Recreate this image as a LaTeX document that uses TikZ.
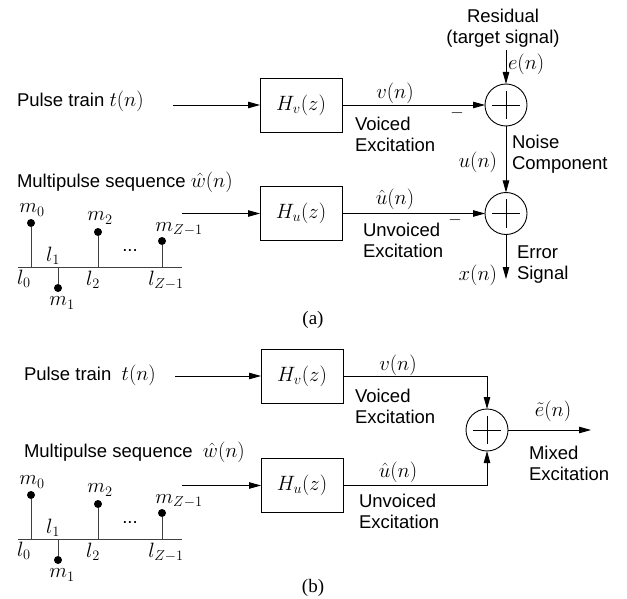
\documentclass[tikz,border=0pt]{standalone}
\usepackage[no-math]{fontspec}
\setmainfont{Liberation Sans}
\newfontfamily\capfont{Liberation Serif}
\usetikzlibrary{arrows.meta}
\newcommand{\mth}[1]{{\fontsize{20.74}{24}\selectfont$#1$}}
\tikzset{
  every node/.style={inner sep=0pt, outer sep=0pt},
  lbl/.style={font=\fontsize{18.5}{21}\selectfont},
  blk/.style={draw, line width=0.9pt, minimum width=82pt, minimum height=54pt, font=\fontsize{20.74}{24}\selectfont},
  sumnode/.style={circle, draw, line width=0.9pt, minimum size=42pt,
    path picture={\draw[line width=0.8pt] ([xshift=-14pt]path picture bounding box.center) -- ([xshift=14pt]path picture bounding box.center)
                   ([yshift=-14pt]path picture bounding box.center) -- ([yshift=14pt]path picture bounding box.center);}},
  sig/.style={line width=0.9pt, -{Triangle[length=12pt,width=6.5pt]}},
  stem/.style={line width=0.9pt, draw=black!75},
  dot/.style={circle, fill=black, minimum size=8pt},
  mathlbl/.style={font=\fontsize{20.74}{24}\selectfont},
}
\newcommand{\stemplot}{%
  \coordinate (b0) at (18,0);
  \coordinate (b1) at (182,0);
  \draw[stem] (b0) -- (b1);
  \coordinate (s0) at (31,0);
  \coordinate (s1) at (58,0);
  \coordinate (s2) at (98,0);
  \coordinate (s3) at (162,0);
  \node[dot] (d0) at (31,-44) {};
  \node[dot] (d1) at (58,21) {};
  \node[dot] (d2) at (98,-35) {};
  \node[dot] (d3) at (162,-26) {};
  \draw[stem] (s0) -- (d0);
  \draw[stem] (s1) -- (d1);
  \draw[stem] (s2) -- (d2);
  \draw[stem] (s3) -- (d3);
  \node[mathlbl] (m0) at (32,-57) {$m_0$};
  \node[mathlbl] (m1) at (62,36) {$m_1$};
  \node[mathlbl] (m2) at (100,-49) {$m_2$};
  \node[mathlbl] (mz) at (179,-38) {$m_{Z-1}$};
  \node[mathlbl] (l0) at (24,12) {$l_0$};
  \node[mathlbl] (l1) at (53,-11) {$l_1$};
  \node[mathlbl] (l2) at (93,13) {$l_2$};
  \node[mathlbl] (lz) at (166,13) {$l_{Z-1}$};
  \node[lbl] (dots) at (130,-16) {...};
}
\begin{document}
\begin{tikzpicture}[x=1pt,y=-1pt]
\useasboundingbox (0,0) rectangle (627,599);

% ---------------- (a) ----------------
\node[lbl, anchor=west] (pta) at (17,101) {Pulse train \mth{t(n)}};
\coordinate (pina) at (173,105);
\node[blk] (hva) at (301,105) {$H_v(z)$};
\draw[sig] (pina) -- (hva.west);

\node[lbl, anchor=west] (mpa) at (17,182) {Multipulse sequence \mth{\hat{w}(n)}};
\coordinate (mina) at (182,213.5);
\node[blk] (hua) at (301,213.5) {$H_u(z)$};
\draw[sig] (mina) -- (hua.west);

\begin{scope}[shift={(0,267)}, name prefix=a-]
\stemplot
\end{scope}

\node[sumnode] (sa1) at (506,105) {};
\node[sumnode] (sa2) at (506,213.5) {};
\node[lbl, align=center] (res) at (503,28) {Residual\\(target signal)};
\coordinate (ein) at (506,50);
\draw[sig] (ein) -- (sa1.north);
\node[mathlbl, anchor=west] (en) at (508,64) {$e(n)$};

\draw[sig] (hva.east) -- (sa1.west);
\node[mathlbl] (vna) at (395,93) {$v(n)$};
\node[lbl] (mina1) at (457,113) {$-$};
\node[lbl, anchor=west, align=left] (vea) at (355,134) {Voiced\\Excitation};

\draw[sig] (sa1.south) -- (sa2.north);
\node[mathlbl, anchor=east] (un) at (497,162) {$u(n)$};
\node[lbl, anchor=west, align=left] (nc) at (512,154) {Noise\\Component};

\draw[sig] (hua.east) -- (sa2.west);
\node[mathlbl] (uhna) at (395,199) {$\hat{u}(n)$};
\node[lbl] (mina2) at (455,220) {$-$};
\node[lbl, anchor=west, align=left] (uea) at (363,240) {Unvoiced\\Excitation};

\coordinate (xout) at (506,279);
\draw[sig] (sa2.south) -- (xout);
\node[mathlbl, anchor=east] (xn) at (497,275) {$x(n)$};
\node[lbl, anchor=west, align=left] (es) at (517,265) {Error\\Signal};

\node[font=\capfont\fontsize{19}{22}\selectfont] (capa) at (313,320) {(a)};

% ---------------- (b) ----------------
\node[lbl, anchor=west] (ptb) at (24,375) {Pulse train\ \ \mth{t(n)}};
\coordinate (pinb) at (175,376);
\node[blk] (hvb) at (302,376) {$H_v(z)$};
\draw[sig] (pinb) -- (hvb.west);

\node[lbl, anchor=west] (mpb) at (24,452) {Multipulse sequence\ \ \mth{\hat{w}(n)}};
\coordinate (minb) at (182,485.5);
\node[blk] (hub) at (302,485.5) {$H_u(z)$};
\draw[sig] (minb) -- (hub.west);

\begin{scope}[shift={(0,539)}, name prefix=b-]
\stemplot
\end{scope}

\node[sumnode] (sb) at (487,430) {};
\draw[sig] (hvb.east) -| (sb.north);
\draw[sig] (hub.east) -| (sb.south);
\node[mathlbl] (vnb) at (398,365) {$v(n)$};
\node[lbl, anchor=west, align=left] (veb) at (355,406) {Voiced\\Excitation};
\node[mathlbl] (uhnb) at (398,472) {$\hat{u}(n)$};
\node[lbl, anchor=west, align=left] (ueb) at (359,511) {Unvoiced\\Excitation};

\coordinate (eout) at (591,430);
\draw[sig] (sb.east) -- (eout);
\node[mathlbl] (etn) at (553,411) {$\tilde{e}(n)$};
\node[lbl, anchor=west, align=left] (me) at (529,463) {Mixed\\Excitation};

\node[font=\capfont\fontsize{19}{22}\selectfont] (capb) at (313,588) {(b)};
\end{tikzpicture}
\end{document}
